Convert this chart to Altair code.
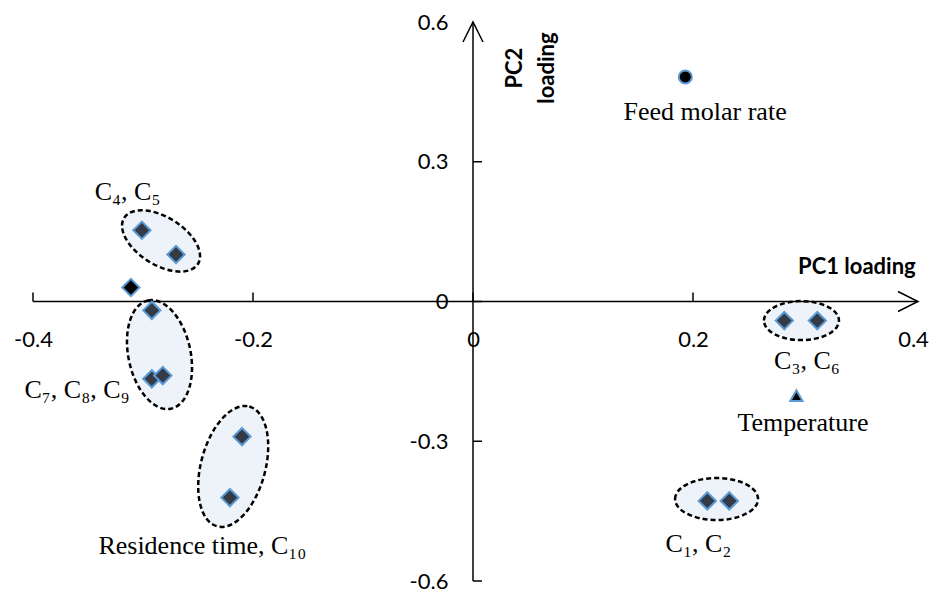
import altair as alt
import pandas as pd

# ---------------- data ----------------
diamond_names = ["C4", "C5", "C7", "C8", "C9", "Residence time", "C10", "C3", "C6", "C1", "C2"]
diamond_x = [-0.301, -0.270, -0.292, -0.292, -0.282, -0.210, -0.221, 0.283, 0.313, 0.213, 0.233]
diamond_y = [0.153, 0.101, -0.019, -0.166, -0.159, -0.290, -0.421, -0.041, -0.041, -0.428, -0.428]

other_names = ["Other variable"]
other_x = [-0.311]
other_y = [0.030]

feed_x = [0.193]
feed_y = [0.482]
temp_x = [0.294]
temp_y = [-0.202]

label_text = ["C\u2084, C\u2085", "C\u2087, C\u2088, C\u2089", "Residence time, C\u2081\u2080",
              "C\u2083, C\u2086", "Temperature", "C\u2081, C\u2082", "Feed molar rate"]
label_x = [-0.314, -0.360, -0.246, 0.3036, 0.300, 0.205, 0.211]
label_y = [0.235, -0.190, -0.524, -0.128, -0.261, -0.521, 0.407]

# group ellipses: centre (data units), semi-axes (px), rotation (deg)
ell_x = [-0.2836, -0.285, -0.218, 0.2986, 0.2214]
ell_y = [0.130, -0.114, -0.354, -0.041, -0.424]
ell_a = [43.5, 55.3, 62.0, 37.5, 41.5]
ell_b = [23.9, 31.1, 32.2, 19.5, 21.0]
ell_angle = [32, 78, 105, 0, 0]

x_ticks = [-0.4, -0.2, 0, 0.2, 0.4]
y_ticks = [-0.6, -0.3, 0, 0.3, 0.6]
x_minor_marks = [-0.4, -0.2, 0, 0.2]
y_minor_marks = [-0.6, -0.3, 0, 0.3]

# ---------------- layout ----------------
W, H = 880, 559
PAD = {"left": 33, "top": 22, "right": 22, "bottom": 12}

label_expr = "datum.value == 0 ? '0' : (datum.value < 0 ? '-' : '') + format(abs(datum.value), '.1f')"
xs = alt.Scale(domain=[-0.4, 0.4], nice=False, zero=False)
ys = alt.Scale(domain=[-0.6, 0.6], nice=False, zero=False)

x_axis = alt.Axis(values=x_ticks, labelExpr=label_expr, domain=False, ticks=False, tickSize=0,
                  grid=False, title=None, orient="bottom", offset=-H / 2, labelPadding=38,
                  labelFont="Lato", labelFontSize=22, labelColor="black", labelBaseline="middle",
                  labelFlush=False, labelOverlap=False)
y_axis = alt.Axis(values=y_ticks, labelExpr=label_expr, domain=False, ticks=False, tickSize=0,
                  grid=False, title=None, orient="left", offset=-W / 2, labelPadding=25,
                  labelFont="Lato", labelFontSize=22, labelColor="black", labelBaseline="middle",
                  labelAlign="right", labelFlush=False, labelOverlap=False)

X = alt.X("x:Q", scale=xs, axis=x_axis)
Y = alt.Y("y:Q", scale=ys, axis=y_axis)

# ---------------- layers ----------------
ell_df = pd.DataFrame({
    "x": ell_x, "y": ell_y,
    "path": [f"M -1 0 A 1 {b / a:.4f} 0 1 1 1 0 A 1 {b / a:.4f} 0 1 1 -1 0 Z" for a, b in zip(ell_a, ell_b)],
    "size": [4 * a * a for a in ell_a],
    "angle": ell_angle,
})
ellipses = alt.Chart(ell_df).mark_point(
    filled=True, fill="#eef3fa", stroke="black", strokeWidth=2.5, strokeDash=[5, 3],
    opacity=1, fillOpacity=1
).encode(
    x=X, y=Y,
    shape=alt.Shape("path:N", scale=None),
    size=alt.Size("size:Q", scale=None),
    angle=alt.Angle("angle:Q", scale=None),
)

axis_df = pd.DataFrame({"x": [-0.4, 0.0], "x2": [0.4045, 0.0], "y": [0.0, -0.6], "y2": [0.0, 0.6]})
axis_lines = alt.Chart(axis_df).mark_rule(color="black", strokeWidth=1.5).encode(
    x=X, x2="x2:Q", y=Y, y2="y2:Q")

xt_df = pd.DataFrame({"x": x_minor_marks, "y": [0.0] * len(x_minor_marks)})
x_tick_marks = alt.Chart(xt_df).mark_tick(orient="vertical", size=9, thickness=1.5,
                                          yOffset=-4.5, color="black", opacity=1).encode(x=X, y=Y)
yt_df = pd.DataFrame({"x": [0.0] * len(y_minor_marks), "y": y_minor_marks})
y_tick_marks = alt.Chart(yt_df).mark_tick(orient="horizontal", size=9, thickness=1.5,
                                          xOffset=4.5, color="black", opacity=1).encode(x=X, y=Y)

arrow_df = pd.DataFrame({"x": [0.4045, 0.0], "y": [0.0, 0.6], "angle": [0, 270]})
arrows = alt.Chart(arrow_df).mark_point(
    shape="M -2 -1 L 0 0 L -2 1", filled=False, stroke="black", strokeWidth=1.5,
    size=400, opacity=1
).encode(x=X, y=Y, angle=alt.Angle("angle:Q", scale=None))

dia_df = pd.DataFrame({"x": diamond_x, "y": diamond_y, "name": diamond_names})
diamonds = alt.Chart(dia_df).mark_point(
    shape="diamond", filled=True, fill="#353b46", stroke="#5b9bd5", strokeWidth=2,
    size=300, opacity=1
).encode(x=X, y=Y)

oth_df = pd.DataFrame({"x": other_x, "y": other_y, "name": other_names})
other = alt.Chart(oth_df).mark_point(
    shape="diamond", filled=True, fill="black", stroke="#5b9bd5", strokeWidth=2,
    size=300, opacity=1
).encode(x=X, y=Y)

feed = alt.Chart(pd.DataFrame({"x": feed_x, "y": feed_y})).mark_point(
    shape="circle", filled=True, fill="black", stroke="#5b9bd5", strokeWidth=2,
    size=170, opacity=1
).encode(x=X, y=Y)

temp = alt.Chart(pd.DataFrame({"x": temp_x, "y": temp_y})).mark_point(
    shape="triangle-up", filled=True, fill="black", stroke="#5b9bd5", strokeWidth=2,
    size=150, opacity=1
).encode(x=X, y=Y)

lab_df = pd.DataFrame({"x": label_x, "y": label_y, "t": label_text})
labels = alt.Chart(lab_df).mark_text(
    font="Liberation Serif", fontSize=26, color="black", align="center", baseline="middle"
).encode(x=X, y=Y, text="t:N")

pc1 = alt.Chart(pd.DataFrame({"x": [0.349], "y": [0.074], "t": ["PC1 loading"]})).mark_text(
    font="Lato", fontSize=22, fontWeight="bold", color="black", align="center", baseline="middle"
).encode(x=X, y=Y, text="t:N")

pc2 = alt.Chart(pd.DataFrame({"x": [0.038], "y": [0.501], "t": ["PC2\nloading"]})).mark_text(
    font="Lato", fontSize=22, fontWeight="bold", color="black", align="center", baseline="middle",
    angle=270, lineBreak="\n", lineHeight=32
).encode(x=X, y=Y, text="t:N")

chart = alt.layer(
    ellipses, axis_lines, x_tick_marks, y_tick_marks, arrows,
    diamonds, other, feed, temp, labels, pc1, pc2
).properties(
    width=W, height=H, padding=PAD, autosize=alt.AutoSizeParams(type="none"),
    background="white"
).configure_view(strokeWidth=0)

chart.save("out.html", embed_options={"renderer": "svg", "actions": False})
